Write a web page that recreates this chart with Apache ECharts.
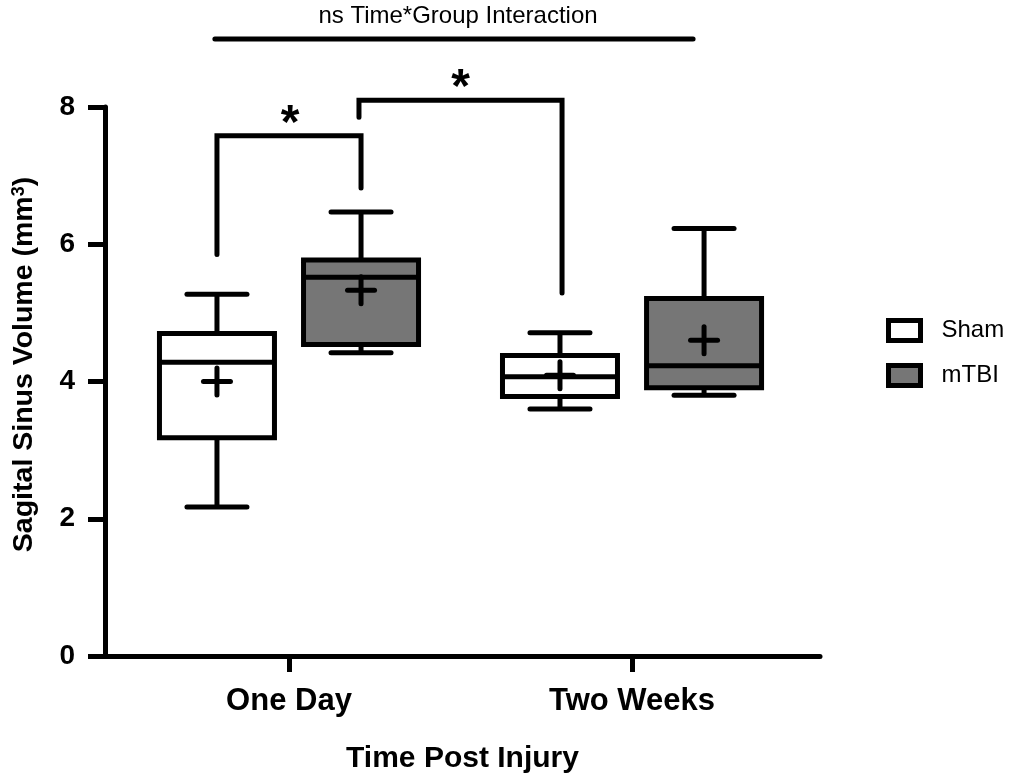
<!DOCTYPE html>
<html>
<head>
<meta charset="utf-8">
<script src="https://cdn.jsdelivr.net/npm/echarts@6/dist/echarts.min.js"></script>
<style>
	html, body { margin: 0; padding: 0; background: #fff; }
	#chart { width: 1023px; height: 779px; }
</style>
</head>
<body>
<div id="chart"></div>
<script>
const categories = ['One Day', 'Two Weeks']
const groups = ['Sham', 'mTBI']
const groupOffset = [-0.21, 0.21]

// [min, q1, median, q3, max] per time point
const shamStats = [[2.17, 3.18, 4.28, 4.70, 5.27], [3.60, 3.78, 4.07, 4.38, 4.71]]
const shamMeans = [4.00, 4.09]
const mtbiStats = [[4.42, 4.54, 5.52, 5.77, 6.47], [3.80, 3.91, 4.23, 5.21, 6.23]]
const mtbiMeans = [5.33, 4.60]

// significance brackets, in axis units
const bracketOne = [[0.79, 5.85], [0.79, 7.58], [1.21, 7.58], [1.21, 6.82]]
const bracketTwo = [[1.204, 7.85], [1.204, 8.10], [1.796, 8.10], [1.796, 5.29]]
const interactionLine = [[0.784, 8.99], [2.178, 8.99]]
const stars = [[1.003, 7.88], [1.50, 8.41]]

const fontMain = '"Liberation Sans", Arial, Helvetica, sans-serif'

const toBoxData = (stats, means, g) => stats.map((s, i) => [i + 1 + groupOffset[g], ...s, means[i]])

const renderBox = (params, api) => {
	const x = api.value(0)
	const pt = (k) => api.coord([x, api.value(k)])
	const [lo, q1, md, q3, hi, mean] = [1, 2, 3, 4, 5, 6].map(pt)
	const cx = lo[0]
	const half = 57.5
	const cap = 30
	const arm = 13.5
	const line = { stroke: '#000', lineWidth: 5, lineCap: 'round' }
	const seg = (x1, y1, x2, y2, cap) => ({
		type: 'line',
		shape: { x1, y1, x2, y2 },
		style: Object.assign({}, line, cap ? { lineCap: cap } : {}),
	})
	return {
		type: 'group',
		children: [
			seg(cx, lo[1], cx, q1[1], 'butt'),
			seg(cx, q3[1], cx, hi[1], 'butt'),
			seg(cx - cap, lo[1], cx + cap, lo[1]),
			seg(cx - cap, hi[1], cx + cap, hi[1]),
			{
				type: 'rect',
				shape: { x: cx - half, y: q3[1], width: half * 2, height: q1[1] - q3[1] },
				style: { fill: api.visual('color'), stroke: '#000', lineWidth: 5 },
			},
			seg(cx - half, md[1], cx + half, md[1], 'butt'),
			seg(cx - arm, mean[1], cx + arm, mean[1]),
			seg(cx, mean[1] - arm, cx, mean[1] + arm),
		],
	}
}

const bracketSeries = (data) => ({
	type: 'line',
	data: data,
	symbol: 'none',
	clip: false,
	silent: true,
	z: 3,
	lineStyle: { color: '#000', width: 5, cap: 'round', join: 'miter' },
})

const myChart = echarts.init(document.getElementById('chart'), null, { renderer: 'canvas' })

let option = {
	backgroundColor: '#fff',
	animation: false,
	title: {
		text: 'ns Time*Group Interaction',
		left: 453,
		top: -1,
		textAlign: 'center',
		textStyle: { fontFamily: fontMain, fontSize: 24, fontWeight: 'normal', color: '#000' },
	},
	legend: {
		data: groups,
		orient: 'vertical',
		left: 881,
		top: 313,
		itemWidth: 32,
		itemHeight: 20,
		itemGap: 20,
		icon: 'rect',
		itemStyle: { borderColor: '#000', borderWidth: 5 },
		textStyle: { fontFamily: fontMain, fontSize: 24, color: '#000', padding: [0, 0, 0, 16] },
	},
	grid: { left: 105, right: 203, top: 107, bottom: 122, containLabel: false },
	xAxis: {
		type: 'value',
		min: 0.4636,
		max: 2.548,
		splitLine: { show: false },
		axisLine: { show: true, lineStyle: { color: '#000', width: 5 } },
		axisTick: { show: true, customValues: [1, 2], length: 16, lineStyle: { color: '#000', width: 5 } },
		axisLabel: {
			customValues: [1, 2],
			formatter: (v) => categories[Math.round(v) - 1],
			margin: 30,
			fontFamily: fontMain,
			fontSize: 31,
			fontWeight: 'bold',
			color: '#000',
		},
		name: 'Time Post Injury',
		nameLocation: 'middle',
		nameGap: 88,
		nameTextStyle: { fontFamily: fontMain, fontSize: 30, fontWeight: 'bold', color: '#000' },
	},
	yAxis: {
		type: 'value',
		min: 0,
		max: 8,
		interval: 2,
		splitLine: { show: false },
		axisLine: { show: true, lineStyle: { color: '#000', width: 5 } },
		axisTick: { show: true, length: 17, lineStyle: { color: '#000', width: 5 } },
		axisLabel: { margin: 30, fontFamily: fontMain, fontSize: 28, fontWeight: 'bold', color: '#000' },
		name: 'Sagital Sinus Volume (mm{sup|3})',
		nameLocation: 'middle',
		nameGap: 66,
		nameTextStyle: {
			fontFamily: fontMain,
			fontSize: 28.5,
			fontWeight: 'bold',
			color: '#000',
			padding: [0, 0, 0, 34],
			rich: {
				sup: { fontFamily: fontMain, fontSize: 18, fontWeight: 'bold', color: '#000', verticalAlign: 'top', padding: [0, 0, 10, 0] },
			},
		},
	},
	series: [
		{
			name: 'Sham',
			type: 'custom',
			renderItem: renderBox,
			itemStyle: { color: '#ffffff' },
			data: toBoxData(shamStats, shamMeans, 0),
			clip: false,
			z: 2,
		},
		{
			name: 'mTBI',
			type: 'custom',
			renderItem: renderBox,
			itemStyle: { color: '#767676' },
			data: toBoxData(mtbiStats, mtbiMeans, 1),
			clip: false,
			z: 2,
		},
		bracketSeries(bracketOne),
		bracketSeries(bracketTwo),
		bracketSeries(interactionLine),
		{
			type: 'scatter',
			data: stars,
			symbolSize: 0,
			silent: true,
			clip: false,
			itemStyle: { opacity: 1 },
			label: {
				show: true,
				position: 'inside',
				formatter: '*',
				offset: [0, 10],
				fontFamily: fontMain,
				fontSize: 48,
				fontWeight: 'bold',
				color: '#000',
			},
		},
	],
}
myChart.setOption(option)

window.addEventListener('resize', () => {
	myChart.resize()
})
</script>
</body>
</html>
